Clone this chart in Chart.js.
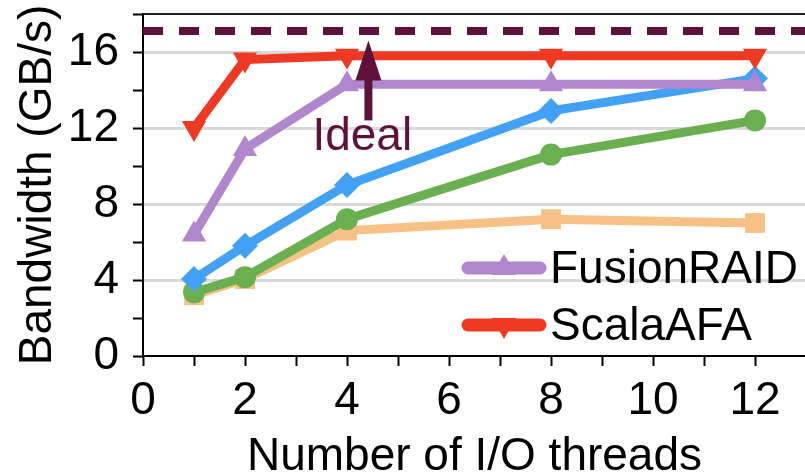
<!DOCTYPE html>
<html>
<head>
<meta charset="utf-8">
<script src="https://cdn.jsdelivr.net/npm/chart.js@4.4.1/dist/chart.umd.min.js"></script>
<style>
  html, body { margin: 0; padding: 0; background: #fff; overflow: hidden; }
  #wrap { width: 805px; height: 476px; overflow: hidden; }
</style>
</head>
<body>
<div id="wrap"><canvas id="bw" width="820" height="476"></canvas></div>
<script>
// Bandwidth vs. number of I/O threads

const THREADS = [1, 2, 4, 8, 12];
const SCALA_AFA = [12.0, 15.6, 15.8, 15.8, 15.8];
const FUSION_RAID = [6.4, 10.9, 14.3, 14.3, 14.3];
const BASE_BLUE = [4.05, 5.8, 9.0, 12.9, 14.6];
const BASE_GREEN = [3.35, 4.15, 7.2, 10.6, 12.4];
const BASE_ORANGE = [3.2, 4.05, 6.6, 7.2, 7.0];

const X_TICKS = [0, 2, 4, 6, 8, 10, 12];
const Y_TICKS = [0, 4, 8, 12, 16];
const LEGEND_ORDER = ["FusionRAID", "ScalaAFA"];

const IDEAL = 17.1;
const IDEAL_ARROW = { x: 4.42, from: 12.4, to: 16.6 };
const IDEAL_LABEL = { x: 4.3, y: 11.5, text: "Ideal" };

const FONT = '"Liberation Sans", Arial, sans-serif';
const FONT_SIZE = 46;
const MAROON = "#5f1239";

const zip = ys => THREADS.map((x, i) => ({ x, y: ys[i] }));

function series(label, data, color, style, rotation, radius) {
  return {
    label,
    data: zip(data),
    borderColor: color,
    backgroundColor: color,
    borderWidth: 9,
    pointStyle: style,
    rotation: rotation,
    pointRadius: radius,
    pointHoverRadius: radius,
    pointBorderWidth: 0,
    tension: 0,
  };
}

// Ideal arrow, label and the two-entry legend
const overlay = {
  id: "overlay",
  afterDatasetsDraw(chart) {
    const { ctx, scales: { x, y }, chartArea } = chart;
    ctx.save();

    // top frame
    ctx.strokeStyle = "#222";
    ctx.lineWidth = 2;
    ctx.beginPath();
    ctx.moveTo(chartArea.left, chartArea.top);
    ctx.lineTo(chartArea.right, chartArea.top);
    ctx.stroke();

    // arrow
    const ax = x.getPixelForValue(IDEAL_ARROW.x);
    const y0 = y.getPixelForValue(IDEAL_ARROW.from);
    const y1 = y.getPixelForValue(IDEAL_ARROW.to);
    const head = 40;
    ctx.strokeStyle = MAROON;
    ctx.fillStyle = MAROON;
    ctx.lineWidth = 8;
    ctx.beginPath();
    ctx.moveTo(ax, y0);
    ctx.lineTo(ax, y1 + head - 2);
    ctx.stroke();
    ctx.beginPath();
    ctx.moveTo(ax, y1);
    ctx.lineTo(ax - 13, y1 + head);
    ctx.lineTo(ax + 13, y1 + head);
    ctx.closePath();
    ctx.fill();

    ctx.font = FONT_SIZE + "px " + FONT;
    ctx.textAlign = "center";
    ctx.textBaseline = "middle";
    ctx.fillText(IDEAL_LABEL.text, x.getPixelForValue(IDEAL_LABEL.x), y.getPixelForValue(IDEAL_LABEL.y));

    // legend
    const entries = LEGEND_ORDER.map(name => chart.data.datasets.find(d => d.label === name));
    const lx = chartArea.right - 338;
    let ly = chartArea.bottom - 88;
    entries.forEach(d => {
      ctx.strokeStyle = d.borderColor;
      ctx.lineWidth = 13;
      ctx.lineCap = "round";
      ctx.beginPath();
      ctx.moveTo(lx, ly);
      ctx.lineTo(lx + 72, ly);
      ctx.stroke();
      ctx.fillStyle = d.backgroundColor;
      Chart.helpers.drawPoint(ctx, { pointStyle: d.pointStyle, radius: 14, rotation: d.rotation, borderWidth: 0 }, lx + 36, ly);
      ctx.fillStyle = "#000";
      ctx.textAlign = "left";
      ctx.fillText(d.label, lx + 82, ly + 2);
      ly += 57;
    });
    ctx.restore();
  }
};

const ctx = document.getElementById("bw").getContext("2d");
new Chart(ctx, {
  type: "line",
  data: {
    datasets: [
      {
        label: "Ideal",
        data: [{ x: 0, y: IDEAL }, { x: 13, y: IDEAL }],
        borderColor: MAROON,
        borderWidth: 8,
        borderDash: [20, 16],
        pointRadius: 0,
      },
      series("ScalaAFA", SCALA_AFA, "#ee3a23", "triangle", 180, 14),
      series("FusionRAID", FUSION_RAID, "#b086cc", "triangle", 0, 14),
      series("Baseline-1", BASE_BLUE, "#42a1f5", "rectRot", 0, 13),
      series("Baseline-2", BASE_GREEN, "#6aaf50", "circle", 0, 11),
      series("Baseline-3", BASE_ORANGE, "#f6c185", "rect", 0, 14),
    ]
  },
  options: {
    responsive: false,
    animation: false,
    devicePixelRatio: 1,
    layout: { padding: { top: 10, right: 4, left: 0, bottom: 0 } },
    plugins: { legend: { display: false }, tooltip: { enabled: false } },
    scales: {
      x: {
        type: "linear",
        min: 0,
        max: 13,
        afterFit: s => { s.height = 120; s.paddingLeft = 0; s.paddingRight = 0; },
        afterBuildTicks: s => { s.ticks = Array.from({ length: 14 }, (_, i) => ({ value: i })); },
        ticks: {
          color: "#000",
          font: { family: FONT, size: FONT_SIZE },
          padding: 8,
          maxRotation: 0,
          autoSkip: false,
          callback: v => X_TICKS.includes(v) ? String(v) : "",
        },
        grid: {
          drawOnChartArea: false,
          drawTicks: true,
          tickLength: 10,
          tickColor: "#000",
          tickWidth: 2,
        },
        border: { color: "#000", width: 2 },
        title: {
          display: true,
          text: "Number of I/O threads",
          color: "#000",
          font: { family: FONT, size: FONT_SIZE, lineHeight: 1 },
          padding: { top: 0, bottom: -4 },
        },
      },
      y: {
        min: 0,
        max: 18,
        afterFit: s => { s.width = 143; s.paddingTop = 0; s.paddingBottom = 0; },
        afterBuildTicks: s => { s.ticks = Array.from({ length: 10 }, (_, i) => ({ value: i * 2 })); },
        ticks: {
          color: "#000",
          font: { family: FONT, size: FONT_SIZE },
          padding: 14,
          autoSkip: false,
          callback: v => Y_TICKS.includes(v) ? String(v) : "",
        },
        grid: {
          color: c => (c.tick && Y_TICKS.includes(c.tick.value) && c.tick.value > 0) ? "#d9d9d9" : "rgba(0,0,0,0)",
          lineWidth: 3,
          tickLength: 10,
          tickColor: "#000",
          tickWidth: 2,
        },
        border: { color: "#000", width: 2 },
        title: {
          display: true,
          text: "Bandwidth (GB/s)",
          color: "#000",
          font: { family: FONT, size: FONT_SIZE, lineHeight: 1 },
          padding: { top: 15, bottom: 0 },
        },
      },
    },
  },
  plugins: [overlay],
});
</script>
</body>
</html>
